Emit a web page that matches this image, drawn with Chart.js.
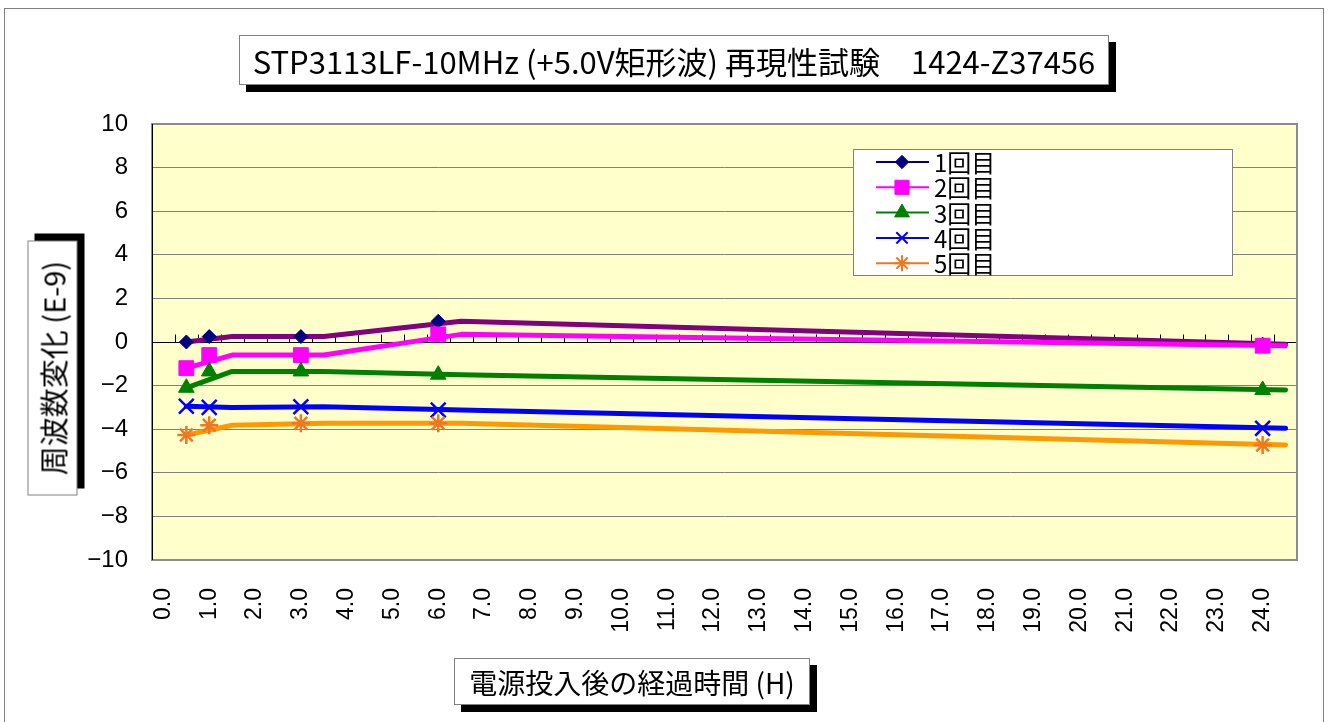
<!DOCTYPE html>
<html>
<head>
<meta charset="utf-8">
<script src="https://cdn.jsdelivr.net/npm/chart.js@4/dist/chart.umd.min.js"></script>
<style>
  body { margin: 0; background: #fff; }
  #wrap { position: relative; width: 1336px; height: 722px; overflow: hidden; }
  #frame { position: absolute; left: 4px; top: 8px; width: 1320px; height: 730px; border: 1px solid #808080; box-sizing: border-box; }
  .box { position: absolute; background: #fff; border: 1px solid #808080; box-sizing: border-box;
         box-shadow: 7px 7px 0 #000; font-family: "Noto Sans CJK JP", sans-serif; color: #000;
         white-space: nowrap; display: flex; align-items: center; justify-content: center; }
  #title { left: 239px; top: 35px; width: 870px; height: 50px; font-size: 31px; }
  #xtitle { left: 454px; top: 658px; width: 356px; height: 47px; font-size: 28px; }
  #ytitle { left: -75px; top: 343px; width: 255px; height: 50px; font-size: 29px; transform: rotate(-90deg); }
  canvas { position: absolute; left: 0; top: 0; }
</style>
</head>
<body>
<div id="wrap">
  <div id="frame"></div>
  <canvas id="chart" width="1336" height="722"></canvas>
  <div id="title" class="box">STP3113LF-10MHz (+5.0V矩形波) 再現性試験　1424-Z37456</div>
  <div id="ytitle" class="box">周波数変化 (E-9)</div>
  <div id="xtitle" class="box">電源投入後の経過時間 (H)</div>
</div>
<script>
const hours = [0.5, 1, 3, 6, 24];
const run1 = [0.0, 0.25, 0.25, 0.95, -0.1];
const run2 = [-1.2, -0.6, -0.6, 0.35, -0.17];
const run3 = [-2.1, -1.35, -1.35, -1.5, -2.2];
const run4 = [-2.95, -3.0, -2.97, -3.12, -3.96];
const run5 = [-4.27, -3.82, -3.73, -3.73, -4.72];
const seriesNames = ['1回目', '2回目', '3回目', '4回目', '5回目'];
const xTicks = [0, 1, 2, 3, 4, 5, 6, 7, 8, 9, 10, 11, 12, 13, 14, 15, 16, 17, 18, 19, 20, 21, 22, 23, 24];
const yTicks = [-10, -8, -6, -4, -2, 0, 2, 4, 6, 8, 10];

const runs = [run1, run2, run3, run4, run5];
const lineColors = ['#800080', '#FF00FF', '#008000', '#0000FF', '#FF9900'];
const markColors = ['#000080', '#FF00FF', '#008000', '#0000FF', '#EE7722'];
const markStyles = ['rectRot', 'rect', 'triangle', 'crossRot', 'star'];
const markSizes = [7, 10.5, 9, 10.5, 9];

const datasets = [];
runs.forEach((vals, i) => {
  datasets.push({
    label: seriesNames[i],
    data: hours.map((h, k) => ({ x: h, y: vals[k] })),
    showLine: false,
    pointStyle: markStyles[i],
    pointRadius: markSizes[i],
    pointBackgroundColor: markColors[i],
    pointBorderColor: markColors[i],
    pointBorderWidth: (i >= 3) ? 2.5 : 1,
    order: 5 - i
  });
});
runs.forEach((vals, i) => {
  // the original draws its line half a step to the right of the markers
  datasets.push({
    label: seriesNames[i] + ' line',
    data: hours.map((h, k) => ({ x: k === 0 ? h : h + 0.5, y: vals[k] })),
    borderColor: lineColors[i],
    borderWidth: 5,
    borderCapStyle: 'round',
    borderJoinStyle: 'round',
    pointRadius: 0,
    tension: 0,
    order: 20 - i
  });
});

const frame = {
  id: 'frame',
  beforeDraw(chart) {
    const a = chart.chartArea, c = chart.ctx;
    c.save();
    c.fillStyle = '#FFFFCC';
    c.fillRect(a.left, a.top, a.right - a.left, a.bottom - a.top);
    c.restore();
  },
  beforeDatasetsDraw(chart) {
    const a = chart.chartArea, c = chart.ctx;
    const xs = chart.scales.x, ys = chart.scales.y;
    const y0 = Math.round(ys.getPixelForValue(0)) + 0.5;
    c.save();
    c.strokeStyle = '#000';
    c.lineWidth = 1;
    c.beginPath();
    c.moveTo(a.left, y0); c.lineTo(a.right, y0);
    for (let v = xs.min; v <= xs.max + 0.001; v += 0.5) {
      const px = Math.round(xs.getPixelForValue(v)) + 0.5;
      c.moveTo(px, y0); c.lineTo(px, y0 - 8);
    }
    c.stroke();
    c.strokeStyle = '#8c8c8c';
    c.lineWidth = 2;
    c.strokeRect(a.left, a.top, a.right - a.left, a.bottom - a.top);
    c.strokeStyle = '#000';
    c.lineWidth = 1;
    c.beginPath();
    c.moveTo(a.left + 0.5, a.top); c.lineTo(a.left + 0.5, a.bottom);
    c.stroke();
    c.restore();
  },
  afterDraw(chart) {
    const c = chart.ctx;
    const bx = 853, by = 149, bw = 379, bh = 126;
    c.save();
    c.fillStyle = '#fff';
    c.fillRect(bx, by, bw, bh);
    c.strokeStyle = '#808080';
    c.lineWidth = 1;
    c.strokeRect(bx + 0.5, by + 0.5, bw, bh);
    seriesNames.forEach((name, i) => {
      const y = 162 + i * 25.3;
      c.strokeStyle = markColors[i];
      c.lineWidth = 2;
      c.beginPath();
      c.moveTo(876, y); c.lineTo(929, y);
      c.stroke();
      c.fillStyle = markColors[i];
      c.lineWidth = (i >= 3) ? 2 : 1;
      Chart.helpers.drawPoint(c, { pointStyle: markStyles[i], radius: i >= 3 ? 8 : markSizes[i] * 0.95, rotation: 0, borderWidth: c.lineWidth }, 902, y);
      c.fillStyle = '#000';
      c.font = '24px "Noto Sans CJK JP"';
      c.textBaseline = 'middle';
      c.fillText(name, 934, y + 1);
    });
    c.restore();
  }
};

new Chart(document.getElementById('chart'), {
  type: 'line',
  data: { datasets },
  options: {
    responsive: false,
    animation: false,
    layout: { padding: { left: 0, top: 124, right: 39, bottom: 0 } },
    plugins: { legend: { display: false }, tooltip: { enabled: false } },
    scales: {
      x: {
        type: 'linear',
        min: -0.25,
        max: 24.75,
        afterFit(s) { s.height = 162; },
        afterBuildTicks(s) { s.ticks = xTicks.map(v => ({ value: v })); },
        grid: { display: false, drawTicks: false },
        border: { display: false },
        ticks: {
          autoSkip: false,
          minRotation: 90,
          maxRotation: 90,
          padding: 28,
          color: '#000',
          font: { family: '"Liberation Sans", Arial', size: 23 },
          callback: v => v.toFixed(1)
        }
      },
      y: {
        min: -10,
        max: 10,
        afterFit(s) { s.width = 152; },
        afterBuildTicks(s) { s.ticks = yTicks.map(v => ({ value: v })); },
        grid: { color: '#808080', lineWidth: 1, drawTicks: false },
        border: { display: false },
        ticks: {
          padding: 24,
          color: '#000',
          font: { family: '"Liberation Sans", Arial', size: 24 },
          callback: v => (v < 0 ? '\u2212' + Math.abs(v) : String(v))
        }
      }
    }
  },
  plugins: [frame]
});
</script>
</body>
</html>
